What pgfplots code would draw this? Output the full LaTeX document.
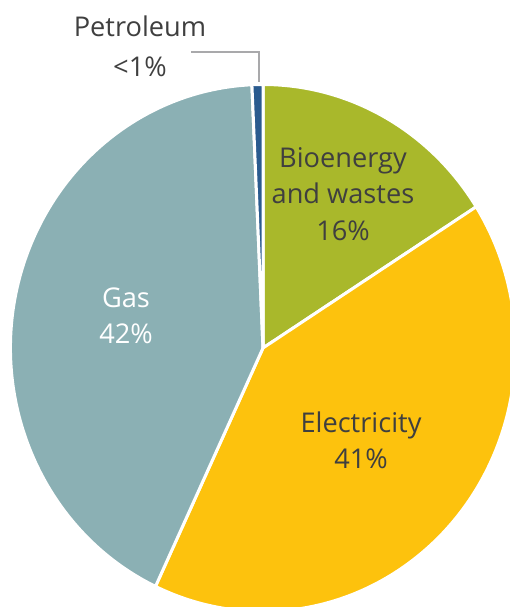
\documentclass[border=0pt]{standalone}
\usepackage{pgfplots}
\pgfplotsset{compat=1.18}
\usepackage{fontspec}
\setmainfont{Open Sans}
\definecolor{gasc}{HTML}{8BB0B4}
\definecolor{bioc}{HTML}{A9B82B}
\definecolor{elecc}{HTML}{FDC20D}
\definecolor{petc}{HTML}{2A5B8F}
\definecolor{txt}{HTML}{3F3F3F}
\definecolor{lead}{HTML}{A9A9AB}
% shares in percent, clockwise from 12 o'clock
\def\valBio{16}
\def\valElec{41}
\def\valGas{42.3}
\def\valPet{0.7}
\begin{document}
\begin{tikzpicture}
\pgfmathsetmacro{\aA}{90}
\pgfmathsetmacro{\aB}{\aA-3.6*\valBio}
\pgfmathsetmacro{\aC}{\aB-3.6*\valElec}
\pgfmathsetmacro{\aD}{\aC-3.6*\valGas}
\pgfmathsetmacro{\aE}{\aD-3.6*\valPet}
\useasboundingbox (0,0) rectangle (255pt,303.5pt);
\clip (0,0) rectangle (255pt,303.5pt);
\begin{axis}[at={(0,0)}, anchor=south west, width=255pt, height=303.5pt,
  scale only axis, xmin=0, xmax=510, ymin=0, ymax=607, hide axis, clip=false]
\def\rx{126.25pt}\def\ry{131.75pt}
\def\wedge#1#2#3{\fill[#1, draw=white, line width=1.5pt] (axis cs:263,259) -- ++({\rx*cos(#2)},{\ry*sin(#2)}) arc[start angle=#2, end angle=#3, x radius=\rx, y radius=\ry] -- cycle;}
\wedge{bioc}{\aA}{\aB}
\wedge{elecc}{\aB}{\aC}
\wedge{gasc}{\aC}{\aD}
\wedge{petc}{\aD}{\aE}
\draw[lead, line width=1pt] (axis cs:191,555) -- (axis cs:259,555) -- (axis cs:259,525);
\tikzset{lbl/.style={align=center, font=\fontsize{13.6}{18.2}\selectfont, text=txt}}
\node[lbl, font=\fontsize{13.6}{20}\selectfont] at (axis cs:140,561) {Petroleum\\{<}1\%};
\node[lbl] at (axis cs:343,413) {Bioenergy\\and wastes\\16\%};
\node[lbl, text=white] at (axis cs:126,291) {Gas\\42\%};
\node[lbl] at (axis cs:361,167) {Electricity\\41\%};
\end{axis}
\end{tikzpicture}
\end{document}
